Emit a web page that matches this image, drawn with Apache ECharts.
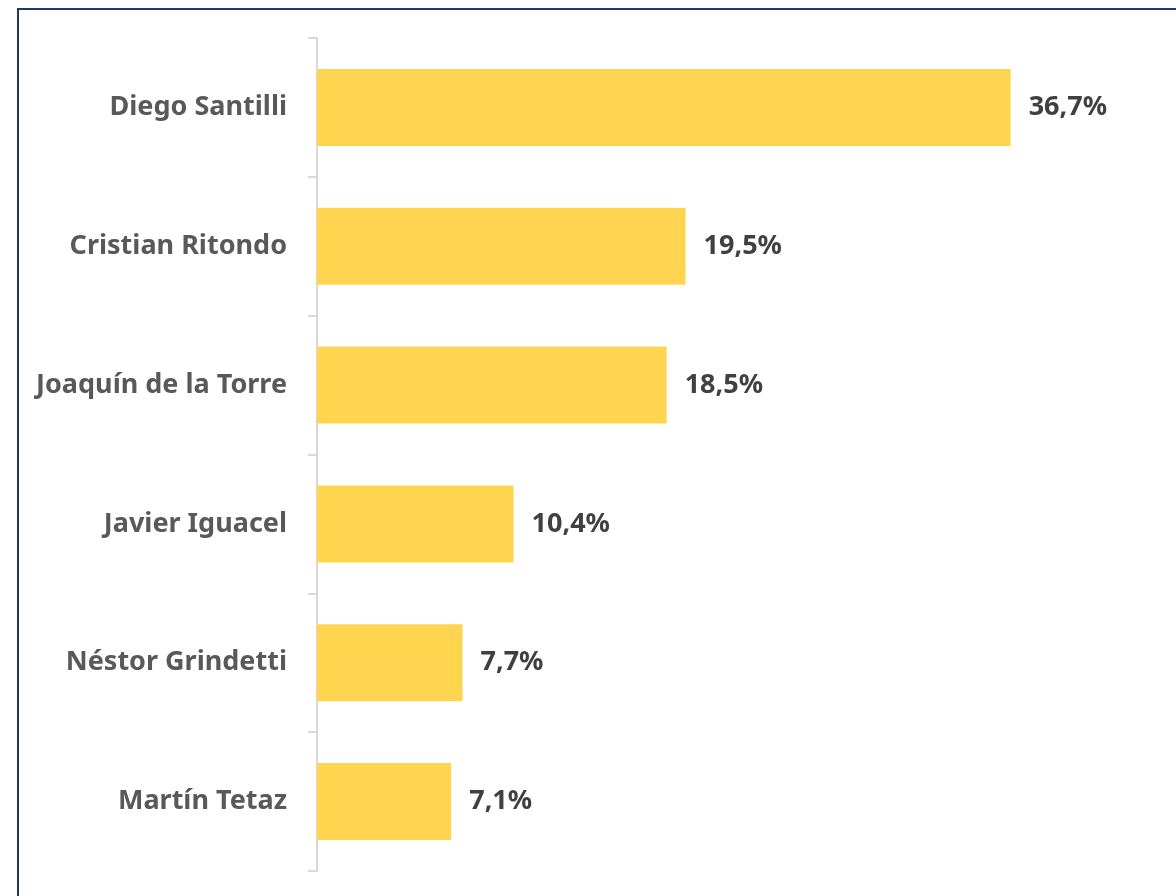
<!DOCTYPE html>
<html>
<head>
<meta charset="utf-8">
<script src="https://cdn.jsdelivr.net/npm/echarts@6/dist/echarts.min.js"></script>
<style>
html,body{margin:0;padding:0;background:#fff;}
#c{width:1176px;height:896px;}
</style>
</head>
<body>
<div id="c"></div>
<script>
const categories = ['Diego Santilli', 'Cristian Ritondo', 'Joaquín de la Torre', 'Javier Iguacel', 'Néstor Grindetti', 'Martín Tetaz'];
const values = [36.7, 19.5, 18.5, 10.4, 7.7, 7.1];

const chart = echarts.init(document.getElementById('c'));
chart.setOption({
  animation: false,
  backgroundColor: '#ffffff',
  graphic: [{
    type: 'rect',
    shape: { x: 18, y: 9, width: 1300, height: 1000 },
    style: { fill: 'none', stroke: '#1f3864', lineWidth: 2 },
    silent: true
  }],
  grid: { left: 317, right: 103, top: 38, bottom: 25, containLabel: false },
  xAxis: {
    type: 'value', min: 0, max: 40, show: false
  },
  yAxis: {
    type: 'category',
    data: categories,
    inverse: true,
    axisLine: { show: true, lineStyle: { color: '#d9d9d9', width: 2 } },
    axisTick: { show: true, length: 9, alignWithLabel: false, lineStyle: { color: '#d9d9d9', width: 2 } },
    axisLabel: {
      margin: 30,
      color: '#595959',
      fontFamily: 'Noto Sans',
      fontWeight: 'bold',
      fontSize: 27
    },
    splitLine: { show: false }
  },
  series: [{
    type: 'bar',
    data: values,
    barWidth: 77,
    itemStyle: { color: '#FFD550' },
    label: {
      show: true,
      position: 'right',
      distance: 18,
      color: '#404040',
      fontFamily: 'Noto Sans',
      fontWeight: 'bold',
      fontSize: 27,
      formatter: p => p.value.toFixed(1).replace('.', ',') + '%'
    }
  }]
});
</script>
</body>
</html>
